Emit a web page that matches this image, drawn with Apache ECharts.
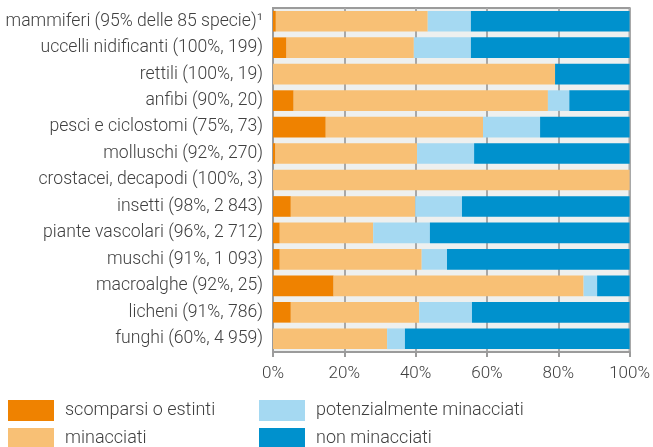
<!DOCTYPE html>
<html>
<head>
<meta charset="utf-8">
<script src="https://cdn.jsdelivr.net/npm/echarts@6/dist/echarts.min.js"></script>
<style>
  html, body { margin: 0; padding: 0; background: #fff; }
  #chart { width: 653px; height: 447px; }
</style>
</head>
<body>
<div id="chart"></div>
<script>
  // categorie (dall'alto verso il basso)
  let categories = [
    'mammiferi (95% delle 85 specie)¹',
    'uccelli nidificanti (100%, 199)',
    'rettili (100%, 19)',
    'anfibi (90%, 20)',
    'pesci e ciclostomi (75%, 73)',
    'molluschi (92%, 270)',
    'crostacei, decapodi (100%, 3)',
    'insetti (98%, 2 843)',
    'piante vascolari (96%, 2 712)',
    'muschi (91%, 1 093)',
    'macroalghe (92%, 25)',
    'licheni (91%, 786)',
    'funghi (60%, 4 959)',
  ];
  let estinti = [0.8, 3.8, 0, 5.8, 14.8, 0.7, 0, 5.0, 1.9, 1.9, 17.0, 5.0, 0];
  let minacciati = [42.6, 35.7, 79.1, 71.3, 44.1, 39.7, 100, 34.9, 26.2, 39.8, 70.1, 36.0, 32.0];
  let potenziali = [12.1, 16.0, 0, 6.0, 16.0, 16.0, 0, 13.1, 15.9, 7.1, 3.8, 14.8, 5.0];
  let nonMinacciati = [44.5, 44.5, 20.9, 16.9, 25.1, 43.6, 0, 47.0, 56.0, 51.2, 9.1, 44.2, 63.0];
  let xTicks = [0, 20, 40, 60, 80, 100];

  let chart = echarts.init(document.getElementById('chart'));
  let textColor = '#404040';
  let font = 'Roboto';

  let makeSeries = (name, data, color) => ({
    name: name,
    type: 'bar',
    stack: 'tot',
    data: data,
    barCategoryGap: '22%',
    itemStyle: { color: color },
    emphasis: { disabled: true },
  });

  // una legenda per voce, disposte su due colonne
  let makeLegend = (name, left, top) => ({
    left: left,
    top: top,
    padding: 0,
    icon: 'rect',
    itemWidth: 46,
    itemHeight: 21,
    textStyle: {
      fontSize: 18,
      fontWeight: 300,
      color: textColor,
      fontFamily: font,
      padding: [0, 0, 0, 6],
    },
    data: [name],
  });

  chart.setOption({
    animation: false,
    textStyle: { fontFamily: font },
    grid: {
      left: 273,
      top: 8,
      width: 357,
      height: 344,
      show: true,
      backgroundColor: '#eef0ef',
      borderColor: '#9b9b9b',
      borderWidth: 2,
    },
    legend: [
      makeLegend('scomparsi o estinti', 8, 400),
      makeLegend('minacciati', 8, 428),
      makeLegend('potenzialmente minacciati', 259, 400),
      makeLegend('non minacciati', 259, 428),
    ],
    xAxis: {
      type: 'value',
      min: xTicks[0],
      max: xTicks[xTicks.length - 1],
      interval: 20,
      axisLine: { show: true, lineStyle: { color: '#9b9b9b', width: 2 } },
      axisTick: { show: true, length: 5, lineStyle: { color: '#9b9b9b', width: 2 } },
      splitLine: { show: true, lineStyle: { color: '#a8a8a8', width: 2 } },
      axisLabel: {
        formatter: '{value}%',
        fontSize: 17,
        fontWeight: 300,
        color: textColor,
        margin: 13,
        fontFamily: font,
      },
    },
    yAxis: {
      type: 'category',
      inverse: true,
      data: categories,
      axisLine: { show: true, lineStyle: { color: '#9b9b9b', width: 2 } },
      axisTick: { show: false },
      axisLabel: { fontSize: 17.6, fontWeight: 300, color: textColor, margin: 10, fontFamily: font },
    },
    series: [
      makeSeries('scomparsi o estinti', estinti, '#ef8200'),
      makeSeries('minacciati', minacciati, '#f8c075'),
      makeSeries('potenzialmente minacciati', potenziali, '#a5d9f2'),
      makeSeries('non minacciati', nonMinacciati, '#0091cd'),
    ],
  });
</script>
</body>
</html>
